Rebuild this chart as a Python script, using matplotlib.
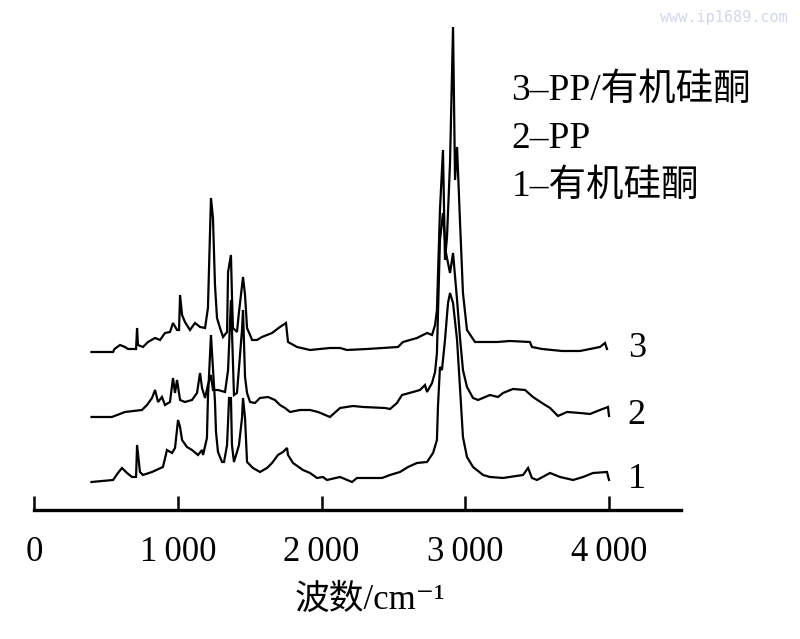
import matplotlib
matplotlib.use("Agg")
import matplotlib.pyplot as plt

plt.rcParams['font.family'] = ['Liberation Serif', 'Noto Sans CJK SC', 'DejaVu Sans']

# spectra: wavenumber (cm-1) and stacked intensity (a.u.)
wn3 = [400, 550, 560, 598, 633, 654, 689, 710, 717, 723, 758, 793, 842, 877, 911, 946,
       967, 995, 1009, 1016, 1030, 1050, 1085, 1120, 1155, 1190, 1210, 1231, 1245, 1259,
       1273, 1294, 1315, 1343, 1350, 1370, 1377, 1384, 1412, 1426, 1454, 1468, 1482, 1503,
       1517, 1551, 1586, 1656, 1711, 1753, 1767, 1830, 1920, 2059, 2129, 2177, 2316, 2532,
       2567, 2664, 2734, 2769, 2790, 2803, 2824, 2845, 2859, 2873, 2894, 2915, 2929, 2943,
       2963, 2984, 3012, 3068, 3172, 3221, 3311, 3450, 3464, 3534, 3673, 3798, 3868, 3937,
       3972, 3986]
int3 = [158, 158, 161, 165, 163, 161, 161, 161, 182, 165, 163, 168, 172, 170, 177, 178,
        187, 180, 180, 215, 195, 188, 180, 187, 183, 182, 202, 312, 292, 225,
        192, 182, 173, 178, 238, 255, 215, 182, 178, 198, 233, 215, 182, 175,
        170, 170, 173, 177, 183, 187, 168, 163, 160, 162, 162, 160, 161, 163,
        168, 172, 177, 175, 185, 200, 300, 360, 250, 273, 347, 483, 330, 363,
        290, 217, 180, 168, 168, 168, 169, 168, 163, 161, 159, 159, 161, 163,
        167, 161]

wn2 = [400, 542, 633, 751, 786, 821, 842, 863, 890, 911, 946, 967, 981, 995, 1016, 1050,
       1099, 1134, 1155, 1169, 1190, 1210, 1231, 1245, 1280, 1329, 1350, 1370, 1377, 1391,
       1412, 1447, 1454, 1468, 1482, 1503, 1537, 1572, 1628, 1676, 1711, 1746, 1781, 1850,
       1920, 1976, 2059, 2129, 2219, 2289, 2442, 2477, 2525, 2560, 2637, 2685, 2720, 2734,
       2769, 2790, 2803, 2824, 2845, 2866, 2894, 2915, 2943, 2963, 2984, 3012, 3054, 3089,
       3172, 3228, 3263, 3332, 3416, 3471, 3534, 3590, 3645, 3708, 3798, 3868, 3937, 3993,
       4000]
int2 = [93, 93, 98, 100, 105, 112, 120, 108, 113, 105, 108, 132, 117, 130, 110, 108,
        110, 117, 137, 122, 112, 125, 135, 120, 120, 118, 140, 210, 180, 115,
        117, 180, 200, 133, 117, 108, 107, 112, 113, 110, 105, 102, 98, 100,
        100, 98, 93, 102, 104, 103, 102, 101, 107, 115, 118, 120, 125, 118,
        127, 138, 157, 270, 297, 257, 237, 257, 210, 173, 140, 123, 112, 110,
        115, 113, 117, 121, 120, 113, 107, 102, 94, 98, 97, 96, 100, 103,
        94]

wn1 = [400, 550, 584, 612, 647, 682, 710, 717, 737, 758, 821, 897, 925, 960, 981, 1002,
       1016, 1030, 1064, 1099, 1141, 1169, 1176, 1203, 1210, 1231, 1259, 1266, 1280, 1308,
       1322, 1343, 1357, 1370, 1377, 1391, 1412, 1426, 1447, 1454, 1468, 1482, 1523, 1572,
       1621, 1656, 1697, 1732, 1760, 1767, 1802, 1871, 1920, 1969, 2010, 2038, 2129, 2212,
       2247, 2421, 2477, 2546, 2602, 2664, 2734, 2776, 2803, 2810, 2824, 2838, 2859, 2880,
       2894, 2915, 2943, 2963, 2984, 3012, 3054, 3124, 3172, 3263, 3402, 3437, 3464, 3499,
       3590, 3659, 3750, 3819, 3889, 3986, 4000]
int1 = [28, 30, 37, 42, 37, 33, 33, 65, 38, 35, 38, 43, 60, 57, 62, 90,
        83, 70, 63, 60, 55, 60, 55, 72, 112, 175, 108, 78, 58, 48,
        48, 65, 112, 112, 65, 48, 58, 65, 92, 112, 92, 48, 42, 38,
        42, 47, 55, 58, 62, 55, 47, 40, 37, 32, 33, 30, 33, 28,
        32, 32, 35, 38, 43, 47, 48, 57, 70, 103, 143, 140, 170, 207,
        217, 207, 170, 123, 73, 53, 43, 35, 33, 32, 35, 42, 32, 30,
        37, 33, 30, 33, 37, 38, 30]

curve_tags = ['3', '2', '1']
legend_lines = ['3\u2013PP/有机硅酮', '2\u2013PP', '1\u2013有机硅酮']
xticks = [0, 1000, 2000, 3000, 4000]
xtick_labels = ['0', '1\u2009000', '2\u2009000', '3\u2009000', '4\u2009000']

fig = plt.figure(figsize=(8, 6.39), dpi=100)
ax = fig.add_axes([0.0425, 0.2019, 0.8086, 0.7668])

for wn, inten in [(wn3, int3), (wn2, int2), (wn1, int1)]:
    ax.plot(wn, inten, color='black', lw=1.6, solid_joinstyle='miter')

ax.set_xlim(0, 4500)
ax.set_ylim(0, 490)

for sp in ['top', 'right', 'left']:
    ax.spines[sp].set_visible(False)
ax.spines['bottom'].set_linewidth(2.4)
ax.set_yticks([])
ax.set_xticks(xticks)
ax.set_xticklabels(xtick_labels, fontsize=25)
ax.tick_params(axis='x', direction='in', length=10, width=1.8, pad=19)
ax.set_xlabel('波数/cm\u207b\u00b9', fontsize=25)
ax.xaxis.set_label_coords(0.52, -0.15)

# curve numbers at the right end of each trace
for tag, y in zip(curve_tags, [int3[-1], int2[-1], int1[-1]]):
    ax.text(4130, y, tag, fontsize=26, va='center', ha='left')

for i, txt in enumerate(legend_lines):
    ax.text(3320, 419 - i * 48, txt, fontsize=27, va='center', ha='left')

fig.text(0.985, 0.985, 'www.ip1689.com', color='#d0d8ee', fontsize=11,
         ha='right', va='top', family='DejaVu Sans Mono')

fig.savefig('out.png', dpi=100)
